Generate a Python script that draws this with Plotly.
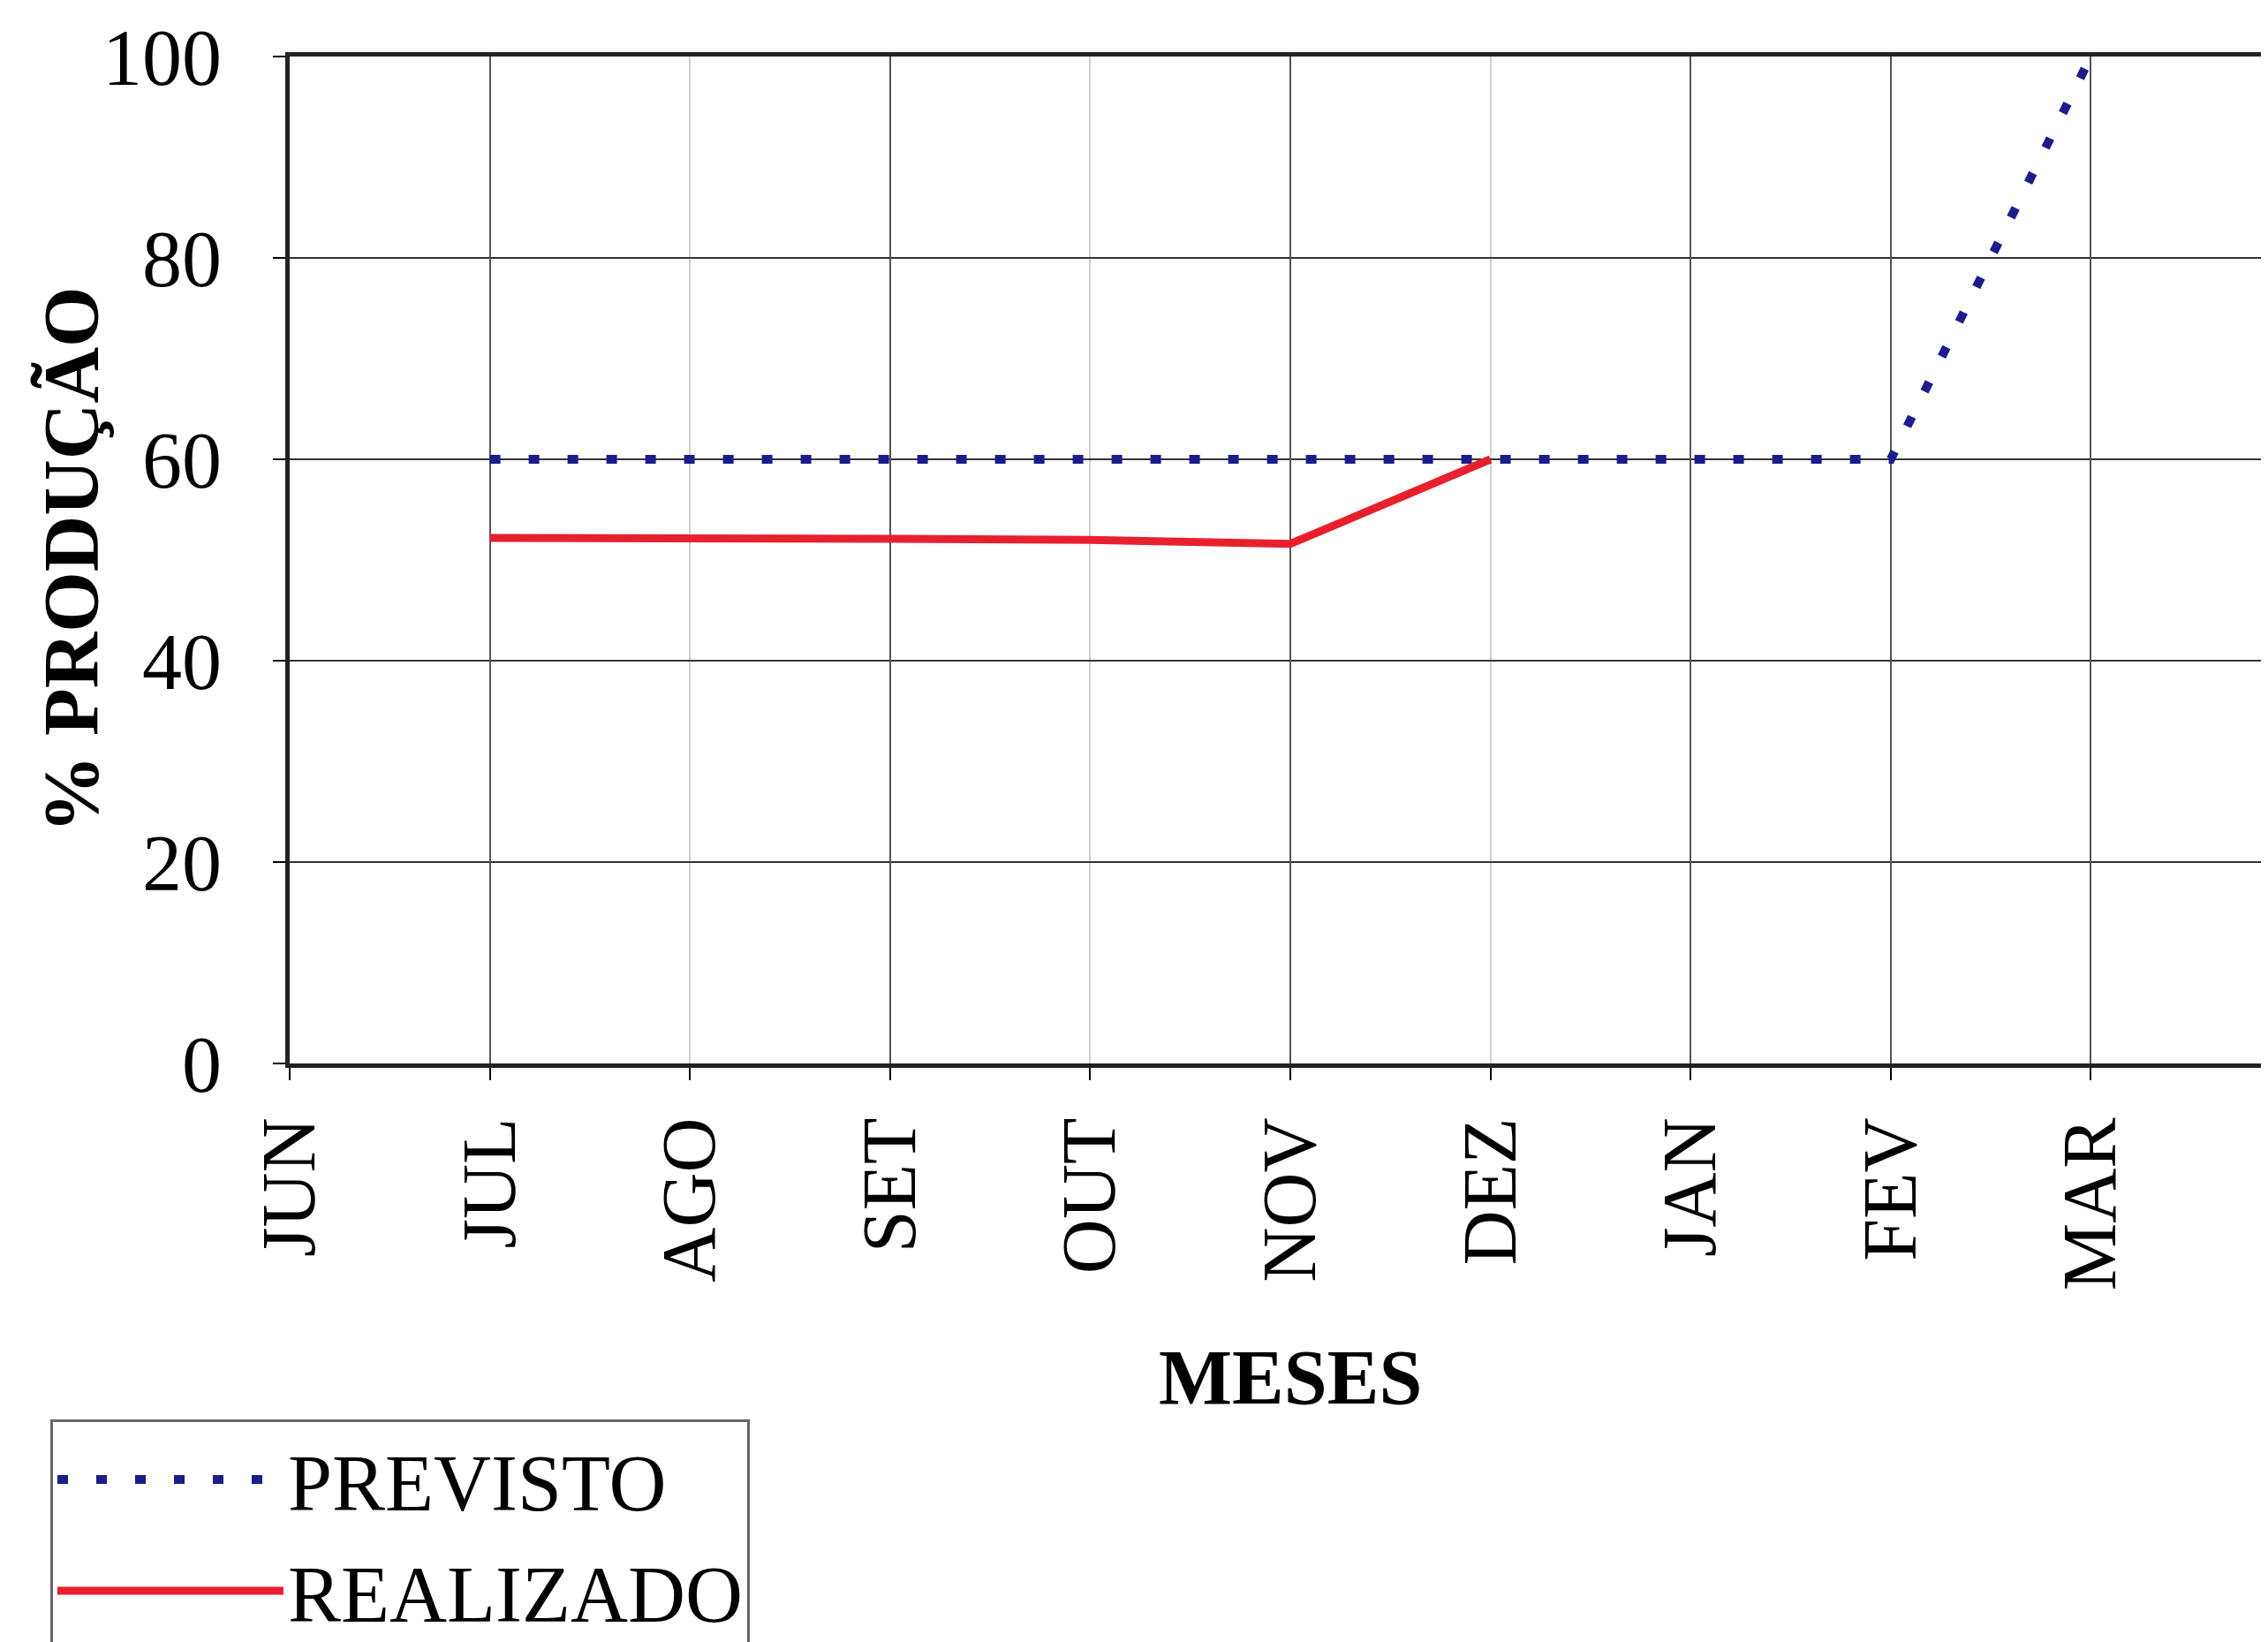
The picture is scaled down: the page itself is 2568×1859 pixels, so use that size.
import plotly.graph_objects as go

months = ["JUN", "JUL", "AGO", "SET", "OUT", "NOV", "DEZ", "JAN", "FEV", "MAR"]
prev_months = ["JUL", "AGO", "SET", "OUT", "NOV", "DEZ", "JAN", "FEV", "MAR"]
previsto = [60, 60, 60, 60, 60, 60, 60, 60, 100]
real_months = ["JUL", "AGO", "SET", "OUT", "NOV", "DEZ"]
realizado = [52.2, 52.2, 52.1, 52.0, 51.6, 60]
y_ticks = [0, 20, 40, 60, 80, 100]
dark_grid_idx = [1, 3, 5, 7, 8, 9]

W, H = 2560, 1851
FONT = "Liberation Serif, Times New Roman, serif"
L, T, B = 320, 56, 655

fig = go.Figure()
fig.add_trace(go.Scatter(
    x=prev_months, y=previsto, name="PREVISTO", mode="lines", legendgroup="a",
    line=dict(color="#1c1c8a", width=10, dash="12px,32px"),
))
fig.add_trace(go.Scatter(
    x=real_months, y=realizado, name="REALIZADO", mode="lines", legendgroup="b",
    line=dict(color="#e8202e", width=9),
))
fig.add_trace(go.Scatter(x=[], y=[], xaxis="x2", showlegend=False, hoverinfo="skip"))

xr = [0, 9.885]
plot_h = H - T - B
fig.update_layout(
    width=W, height=H,
    paper_bgcolor="white", plot_bgcolor="white",
    margin=dict(l=L, r=0, t=T, b=B, autoexpand=False),
    font=dict(family=FONT, color="black", size=86),
    showlegend=True,
    legend=dict(
        xref="container", yref="container",
        x=49 / W, y=1 - 1599 / H, xanchor="left", yanchor="top",
        bgcolor="white", bordercolor="#666", borderwidth=3,
        font=dict(family=FONT, size=90, color="black"),
        itemwidth=256, tracegroupgap=6,
    ),
    xaxis=dict(
        type="category", categoryorder="array", categoryarray=months,
        range=xr, tickvals=months, ticktext=months,
        tickangle=-90, ticks="outside", ticklen=14, tickwidth=2, tickcolor="black",
        ticklabelstandoff=8,
        showgrid=True, gridcolor="#cfcfcf", gridwidth=2,
        showline=True, linecolor="#222", linewidth=5, mirror=True,
        zeroline=False,
        tickfont=dict(size=86),
    ),
    xaxis2=dict(
        overlaying="x", range=xr, tickvals=dark_grid_idx,
        showticklabels=False, ticks="", showgrid=True,
        gridcolor="#555", gridwidth=2, showline=False, zeroline=False,
    ),
    yaxis=dict(
        range=[0, 100], tickvals=y_ticks,
        ticks="outside", ticklen=14, tickwidth=2, tickcolor="black",
        ticklabelstandoff=40,
        showgrid=True, gridcolor="#333", gridwidth=2,
        showline=True, linecolor="#222", linewidth=5, mirror=False,
        zeroline=False,
        tickfont=dict(size=90),
    ),
    annotations=[
        dict(
            text="<b>% PRODUÇÃO</b>", textangle=-90, showarrow=False,
            xref="paper", yref="paper", x=(72 - L) / (W - L), y=0.5,
            xanchor="center", yanchor="middle",
            font=dict(family=FONT, size=88, color="black"),
        ),
        dict(
            text="<b>MESES</b>", showarrow=False,
            xref="x", yref="paper", x="NOV", y=(H - B - 1551) / plot_h,
            xanchor="center", yanchor="middle",
            font=dict(family=FONT, size=88, color="black"),
        ),
    ],
)

fig.write_html("out.html")
